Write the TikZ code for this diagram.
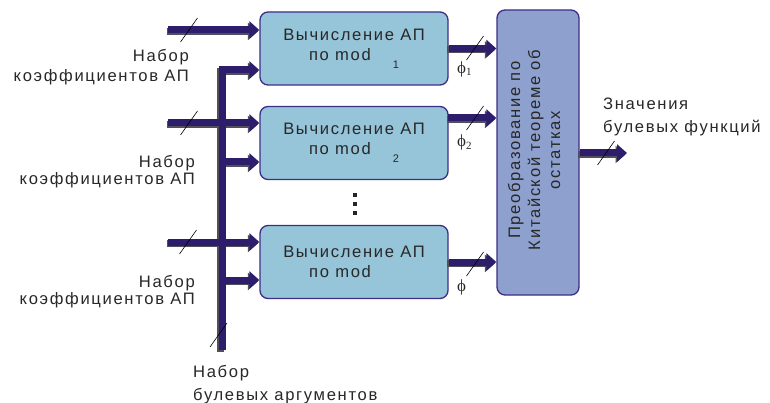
\documentclass[tikz,border=0pt]{standalone}
\usepackage{fontspec}
\setmainfont{Liberation Sans}
\newfontfamily\spacedsans[LetterSpace=10]{Liberation Sans}
\newfontfamily\greekserif{Liberation Serif}
\usetikzlibrary{arrows.meta}

\definecolor{busviolet}{RGB}{46,28,108}
\definecolor{busgrey}{RGB}{80,80,90}
\definecolor{modfill}{RGB}{150,196,216}
\definecolor{crtfill}{RGB}{142,160,206}
\definecolor{frameviolet}{RGB}{62,45,135}
\definecolor{inktext}{RGB}{40,40,40}

\tikzset{
  txt/.style={text=inktext, inner sep=0pt, font=\spacedsans\fontsize{16.6}{20}\selectfont},
  modblock/.style={txt, draw=frameviolet, line width=1.3pt, fill=modfill,
    rounded corners=8pt, minimum width=188pt, minimum height=73pt, align=center},
  crtblock/.style={draw=frameviolet, line width=1.3pt, fill=crtfill,
    rounded corners=8pt, minimum width=82pt, minimum height=285pt, inner sep=0pt},
  phitxt/.style={text=inktext, inner sep=0pt, font=\greekserif\fontsize{17}{17}\selectfont},
  busmain/.style={draw=busviolet, line width=7pt, -{Triangle[length=10pt,width=17pt]}},
  busback/.style={draw=busgrey, line width=7pt, -{Triangle[length=10pt,width=17pt]}},
  tickmark/.style={draw=black, line width=0.6pt},
}

% all bus connections, drawn once as shadow and once on top
\newcommand\drawbuses[1]{%
  \draw[#1] (in1) -- (in1 -| b1.west);
  \draw[#1] (in2) -- (in2 -| b2.west);
  \draw[#1] (in3) -- (in3 -| b3.west);
  \draw[#1] (busbot) |- (t1 -| b1.west);
  \draw[#1] (t2) -- (t2 -| b2.west);
  \draw[#1] (t3) -- (t3 -| b3.west);
  \draw[#1] (b1.east) -- (b1.east -| crt.west);
  \draw[#1] (o2) -- (o2 -| crt.west);
  \draw[#1] (b3.east) -- (b3.east -| crt.west);
  \draw[#1] (crt.east |- fout) -- (fout);
}
\newcommand\slashat[1]{\draw[tickmark] (#1) ++(-8.5,12) -- ++(17,-24);}

\begin{document}
\begin{tikzpicture}[x=1pt,y=-1pt]
  \fill[white] (0,0) rectangle (770,403);
  \useasboundingbox (0,0) rectangle (770,403);

  % residue blocks
  \node[modblock] (b1) at (354,48.5)
    {Вычисление АП\\по mod\hspace{22pt}\raisebox{-8pt}{\fontsize{11}{11}\selectfont 1}};
  \node[modblock] (b2) at (354,143)
    {Вычисление АП\\по mod\hspace{22pt}\raisebox{-8pt}{\fontsize{11}{11}\selectfont 2}};
  \node[modblock] (b3) at (354,262)
    {Вычисление АП\\по mod\makebox[28pt]{}};

  % Chinese remainder block
  \node[crtblock] (crt) at (538,152.5) {};
  \node[txt, rotate=90, align=center] (crttext) at (534,150)
    {Преобразование по\\Китайской теореме об\\остатках};

  % bus end points
  \coordinate (in1) at (168,30);
  \coordinate (in2) at (168,123);
  \coordinate (in3) at (168,242);
  \coordinate (busbot) at (222,350);
  \coordinate (t1) at (222,70);
  \coordinate (t2) at (222,162);
  \coordinate (t3) at (222,280);
  \coordinate (o2) at (448,118);
  \coordinate (fout) at (627,153);

  \begin{scope}[transform canvas={xshift=-1.5pt,yshift=-1.5pt}]
    \drawbuses{busback}
  \end{scope}
  \drawbuses{busmain}

  % bus width marks
  \slashat{189,30}
  \slashat{189,123}
  \slashat{188,242}
  \slashat{475,48}
  \slashat{475,118}
  \slashat{475,264}
  \slashat{606,153}
  \slashat{218.5,335}

  % continuation dots
  \foreach \yy in {193,202,211} \fill[black!85] (353,\yy) rectangle ++(4,4);

  % labels
  \node[txt, anchor=base east] (l1a) at (189,62) {Набор};
  \node[txt, anchor=base east] (l1b) at (189,82) {коэффициентов АП};
  \node[txt, anchor=base east] (l2a) at (195,168) {Набор};
  \node[txt, anchor=base east] (l2b) at (195,185) {коэффициентов АП};
  \node[txt, anchor=base east] (l3a) at (195,287) {Набор};
  \node[txt, anchor=base east] (l3b) at (195,304) {коэффициентов АП};
  \node[txt, anchor=base west] (la) at (193,377) {Набор};
  \node[txt, anchor=base west] (lb) at (193,400) {булевых аргументов};
  \node[txt, anchor=base west] (ra) at (603,110) {Значения};
  \node[txt, anchor=base west] (rb) at (603,133) {булевых функций};

  \node[phitxt, anchor=base west] (p1) at (457,73.5)
    {ϕ\raisebox{-2pt}{\fontsize{11}{11}\selectfont 1}};
  \node[phitxt, anchor=base west] (p2) at (457,146.5)
    {ϕ\raisebox{-3pt}{\fontsize{11}{11}\selectfont 2}};
  \node[phitxt, anchor=base west] (p3) at (457,291) {ϕ};
\end{tikzpicture}
\end{document}
